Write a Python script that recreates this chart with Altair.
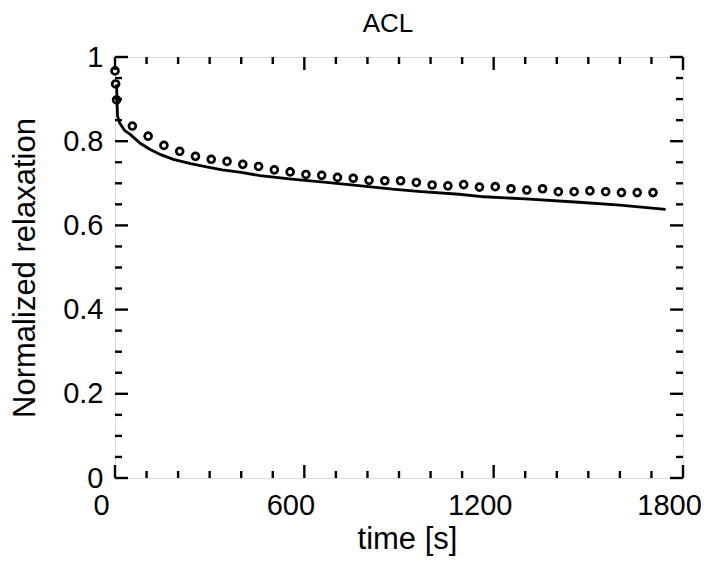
import altair as alt
import pandas as pd

# ---- data ----
circle_t = [0, 2, 5, 55, 105, 155, 205, 255, 305, 355, 405, 455, 505, 555, 605, 655,
            705, 755, 805, 855, 905, 955, 1005, 1055, 1105, 1155, 1205, 1255, 1305,
            1355, 1405, 1455, 1505, 1555, 1605, 1655, 1705]
circle_v = [0.967, 0.936, 0.898, 0.836, 0.812, 0.790, 0.776, 0.764, 0.757, 0.752, 0.745,
            0.740, 0.732, 0.727, 0.721, 0.719, 0.714, 0.712, 0.707, 0.706, 0.706, 0.702,
            0.696, 0.694, 0.697, 0.691, 0.692, 0.687, 0.684, 0.687, 0.680, 0.680, 0.682,
            0.680, 0.678, 0.678, 0.678]

line_t = [5, 8, 15, 30, 50, 80, 110, 145, 185, 240, 290, 340, 400, 460, 560, 670, 780,
          880, 960, 1090, 1170, 1300, 1470, 1600, 1745]
line_v = [0.935, 0.860, 0.843, 0.826, 0.815, 0.795, 0.781, 0.768, 0.757, 0.747, 0.739,
          0.732, 0.726, 0.718, 0.710, 0.702, 0.694, 0.686, 0.681, 0.674, 0.668, 0.663,
          0.655, 0.648, 0.638]

x_major = [0, 600, 1200, 1800]
x_minor = [v for v in range(0, 1801, 100) if v not in x_major]
y_major = [0, 0.2, 0.4, 0.6, 0.8, 1.0]
y_minor = [round(i * 0.05, 2) for i in range(21) if i % 4 != 0]

title_text = "ACL"
x_title = "time [s]"
y_title = "Normalized relaxation"

W, H = 568, 421
FONT = "Liberation Sans"

xs = alt.Scale(domain=[0, 1800], nice=False, zero=False)
ys = alt.Scale(domain=[0, 1], nice=False, zero=False)

x_axis = alt.Axis(
    values=x_major, format="d", ticks=False, domain=False, grid=False,
    labelOffset=-14, labelPadding=13, labelFontSize=29, labelFont=FONT, labelColor="black",
    labelFlush=False,
    title=x_title, titleFont=FONT, titleFontSize=31, titleFontWeight="normal",
    titleColor="black", titleX=W / 2 + 8, titleY=70, titleBaseline="alphabetic",
    titleAlign="center")
y_axis = alt.Axis(
    values=y_major, format="~g", ticks=False, domain=False, grid=False,
    labelPadding=12, labelFontSize=29, labelFont=FONT, labelColor="black",
    labelFlush=False,
    title=y_title, titleFont=FONT, titleFontSize=31, titleFontWeight="normal",
    titleColor="black", titleX=-81, titleY=H / 2, titleAngle=270,
    titleBaseline="alphabetic", titleAlign="center")

circles_df = pd.DataFrame({"t": circle_t, "v": circle_v})
line_df = pd.DataFrame({"t": line_t, "v": line_v})

line = alt.Chart(line_df).mark_line(color="black", strokeWidth=2.8).encode(
    x=alt.X("t:Q", scale=xs, axis=x_axis),
    y=alt.Y("v:Q", scale=ys, axis=y_axis),
    order="t:Q",
)

points = alt.Chart(circles_df).mark_point(
    shape="circle", filled=False, color="black", strokeWidth=2.7, size=48, opacity=1
).encode(
    x=alt.X("t:Q", scale=xs, axis=x_axis),
    y=alt.Y("v:Q", scale=ys, axis=y_axis),
)


def xticks(vals, y0, y1):
    return alt.Chart(pd.DataFrame({"t": vals})).mark_rule(color="black", strokeWidth=2.4).encode(
        x=alt.X("t:Q", scale=xs, axis=x_axis), y=alt.value(y0), y2=alt.value(y1))


def yticks(vals, x0, x1):
    return alt.Chart(pd.DataFrame({"v": vals})).mark_rule(color="black", strokeWidth=2.4).encode(
        y=alt.Y("v:Q", scale=ys, axis=y_axis), x=alt.value(x0), x2=alt.value(x1))


MAJ, MIN = 13, 7
ticks = [
    xticks(x_major, H, H - MAJ), xticks(x_minor, H, H - MIN),
    xticks(x_major, 0, MAJ), xticks(x_minor, 0, MIN),
    yticks(y_major, 0, MAJ), yticks(y_minor, 0, MIN),
    yticks(y_major, W, W - MAJ), yticks(y_minor, W, W - MIN),
]

chart = alt.layer(line, points, *ticks).properties(
    width=W, height=H,
    title=alt.TitleParams(title_text, font=FONT, fontSize=26, fontWeight="normal",
                          color="black", anchor="middle", offset=6, dx=-11),
    autosize=alt.AutoSizeParams(type="none"),
    padding={"left": 107, "top": 49, "right": 18, "bottom": 79},
).configure_view(stroke="black", strokeWidth=2.6).configure(background="white")

chart.save("out.html", embed_options={"renderer": "svg", "actions": False})
